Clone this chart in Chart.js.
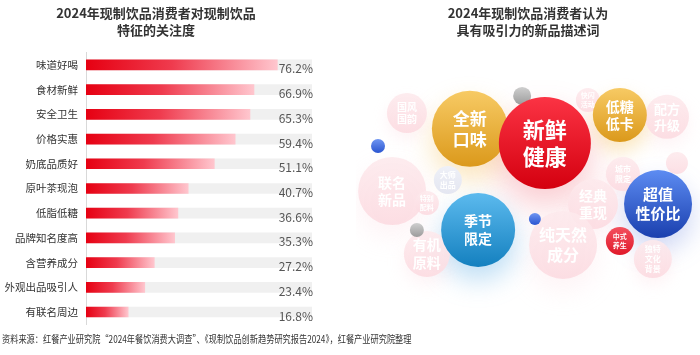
<!DOCTYPE html>
<html><head><meta charset="utf-8">
<script src="https://cdn.jsdelivr.net/npm/chart.js@4/dist/chart.umd.min.js"></script>
<style>
html,body{margin:0;padding:0;background:#fff;width:700px;height:355px;overflow:hidden;font-family:"Noto Sans CJK SC","Noto Sans",sans-serif;}
#left{position:absolute;left:0;top:0;width:324px;height:355px;}
#right{position:absolute;left:356px;top:0;width:344px;height:355px;}
#src{position:absolute;left:2px;top:331px;font-size:10px;color:#333;white-space:nowrap;transform:scaleX(0.82);transform-origin:left top;}
</style></head>
<body>
<div id="left"><canvas id="c1" width="324" height="355"></canvas></div>
<div id="right"><canvas id="c2" width="344" height="355"></canvas></div>
<div id="src">资料来源：红餐产业研究院“2024年餐饮消费大调查”、《现制饮品创新趋势研究报告2024》，红餐产业研究院整理</div>
<script>
// ---- bar chart data ----
const categories = ['味道好喝','食材新鲜','安全卫生','价格实惠','奶底品质好','原叶茶现泡','低脂低糖','品牌知名度高','含营养成分','外观出品吸引人','有联名周边'];
const values = [76.2,66.9,65.3,59.4,51.1,40.7,36.6,35.3,27.2,23.4,16.8];
const trackValues = [90,90,90,90,90,90,90,90,90,90,90];
const leftTitle = ['2024年现制饮品消费者对现制饮品','特征的关注度'];

// ---- bubble chart data ----
const rightTitle = ['2024年现制饮品消费者认为','具有吸引力的新品描述词'];
const bubbleLabels = ['国风\n国韵','快闪\n活动','配方\n升级','城市\n限定','','联名\n新品','大师\n出品','特别\n配料','有机\n原料','经典\n重现','纯天然\n成分','独特\n文化\n背景',
  '','','','',
  '全新\n口味','低糖\n低卡','季节\n限定','超值\n性价比','中式\n养生','新鲜\n健康'];
const bubbleX = [14.8,67.4,90.4,77.6,93.3,10.5,26.7,20.6,20.6,68.9,60.2,86.3,
  48.3,6.4,17.7,52.0,
  33.1,76.7,35.5,87.8,76.7,54.9];
const bubbleY = [22.2,17.4,23.6,44.6,40.5,50.8,46.8,55.2,73.9,55.6,70.6,75.8,
  15.9,34.3,65.1,61.1,
  28.0,22.9,65.1,55.6,69.2,33.2];
const bubbleR = [20,12,22,17,11,34,14,12,23,25,34,19,
  9,7,7,6,
  38,27,37,34,14,46];
const bubbleKinds = ['pale','pale','pale','pale','pale','pale','lavender','pale','pale','pale','pale','pale',
  'grey','bluedot','grey','bluedot',
  'gold','gold','sky','navy','redsmall','red'];

// ---- styles ----
const FONT = '"Noto Sans CJK SC","Noto Sans",sans-serif';
const kindStyle = {
  pale:{top:'rgba(253,234,237,0.9)',bot:'rgba(252,219,225,0.9)',glow:'rgba(250,205,215,0.22)'},
  lavender:{top:'#eef0f7',bot:'#e4e6f1',glow:'rgba(220,220,240,0.2)'},
  grey:{top:'#cfcfcf',bot:'#9c9c9c',glow:'rgba(0,0,0,0)'},
  bluedot:{top:'#6f95f2',bot:'#2a55d0',glow:'rgba(0,0,0,0)'},
  gold:{top:'#f7ca64',bot:'#db991b',glow:'rgba(243,190,80,0.35)'},
  red:{top:'#fb3344',bot:'#d4000f',glow:'rgba(235,50,70,0.25)'},
  sky:{top:'#5cbaee',bot:'#1480bf',glow:'rgba(90,170,230,0.38)'},
  navy:{top:'#5d8cf2',bot:'#1a3fae',glow:'rgba(90,120,220,0.28)'},
  redsmall:{top:'#f3505e',bot:'#e0192a',glow:'rgba(240,80,90,0.2)'}
};
const labelFont = {'新鲜\n健康':22,'全新\n口味':17,'季节\n限定':14,'超值\n性价比':15,'低糖\n低卡':14,'联名\n新品':14,'纯天然\n成分':16,'经典\n重现':14,'有机\n原料':14,'配方\n升级':13,'国风\n国韵':10,'城市\n限定':8,'快闪\n活动':7,'大师\n出品':8,'特别\n配料':7,'中式\n养生':7,'独特\n文化\n背景':8};

// ---- left: bar chart ----
const barGradient = (ctx) => {
  const chart = ctx.chart; const area = chart.chartArea;
  if (!area || ctx.raw == null) return '#e60012';
  const x0 = chart.scales.x.getPixelForValue(0);
  const x1 = chart.scales.x.getPixelForValue(ctx.raw);
  const g = chart.ctx.createLinearGradient(x0,0,x1,0);
  g.addColorStop(0,'#e60012'); g.addColorStop(0.45,'#ef3b4e'); g.addColorStop(1,'#ffc6ce');
  return g;
};
const valueLabels = {
  id:'valueLabels',
  afterDatasetsDraw(chart){
    const ctx = chart.ctx; const meta = chart.getDatasetMeta(1);
    const xr = chart.scales.x.getPixelForValue(90);
    ctx.save(); ctx.font = '12px ' + FONT; ctx.fillStyle = '#555'; ctx.textAlign='right'; ctx.textBaseline='middle';
    meta.data.forEach((el,i)=>{ ctx.fillText(values[i].toFixed(1)+'%', xr+1, el.y+4); });
    ctx.restore();
  }
};
new Chart(document.getElementById('c1'),{
  type:'bar',
  data:{labels:categories,datasets:[
    {data:trackValues,backgroundColor:'#f0f0f0',barThickness:10,grouped:false,order:2},
    {data:values,backgroundColor:barGradient,barThickness:10,grouped:false,order:1}
  ]},
  options:{
    indexAxis:'y',responsive:false,animation:false,events:[],
    layout:{padding:{left:0,right:12,top:0,bottom:30.6}},
    plugins:{legend:{display:false},tooltip:{enabled:false},
      title:{display:true,text:leftTitle,color:'#333',font:{family:FONT,size:13,weight:'bold',lineHeight:1.33},padding:{top:4,bottom:14}}},
    scales:{
      x:{display:false,min:0,max:90},
      y:{grid:{display:false,drawTicks:false},border:{display:true,color:'#d9d9d9'},
        ticks:{color:'#333',font:{family:FONT,size:10.5},padding:8},
        afterFit(s){ s.width = 86; }}
    }
  },
  plugins:[valueLabels]
});

// ---- right: bubble chart ----
const bubbleFill = (ctx) => {
  const chart = ctx.chart; const i = ctx.dataIndex; const st = kindStyle[bubbleKinds[i]];
  if (!chart.chartArea || !chart.scales.y) return st.top;
  const y = chart.scales.y.getPixelForValue(bubbleY[i]); const r = bubbleR[i];
  const g = chart.ctx.createLinearGradient(0,y-r,0,y+r);
  g.addColorStop(0,st.top); g.addColorStop(1,st.bot);
  return g;
};
const glowPlugin = {
  id:'glow',
  beforeDatasetsDraw(chart){
    const ctx = chart.ctx; const meta = chart.getDatasetMeta(0);
    ctx.save();
    meta.data.forEach((el,i)=>{
      const st = kindStyle[bubbleKinds[i]]; const r = bubbleR[i];
      if (r < 15) return;
      ctx.filter = 'blur(' + Math.round(r*0.35) + 'px)';
      ctx.fillStyle = st.glow;
      ctx.beginPath(); ctx.arc(el.x, el.y + r*0.35, r*1.02, 0, Math.PI*2); ctx.fill();
    });
    ctx.restore();
  }
};
const bubbleText = {
  id:'bubbleText',
  afterDatasetsDraw(chart){
    const ctx = chart.ctx; const meta = chart.getDatasetMeta(0);
    ctx.save(); ctx.fillStyle='#fff'; ctx.textAlign='center'; ctx.textBaseline='middle';
    meta.data.forEach((el,i)=>{
      const lab = bubbleLabels[i]; if (!lab) return;
      const lines = lab.split('\n'); const fs = labelFont[lab] || 10; const lh = fs*1.25;
      ctx.font = 'bold ' + fs + 'px ' + FONT;
      const y0 = el.y - (lines.length-1)*lh/2;
      lines.forEach((ln,k)=>ctx.fillText(ln, el.x, y0 + k*lh));
    });
    ctx.restore();
  }
};
new Chart(document.getElementById('c2'),{
  type:'bubble',
  data:{datasets:[{
    data:bubbleX.map((x,i)=>({x:x,y:bubbleY[i],r:bubbleR[i]})),
    backgroundColor:bubbleFill,borderWidth:0,clip:false
  }]},
  options:{
    responsive:false,animation:false,events:[],
    layout:{autoPadding:false,padding:{left:0,right:0,top:0,bottom:30}},
    plugins:{legend:{display:false},tooltip:{enabled:false},
      title:{display:true,text:rightTitle,color:'#333',font:{family:FONT,size:13,weight:'bold',lineHeight:1.33},padding:{top:4,bottom:14}}},
    scales:{
      x:{display:false,min:0,max:100},
      y:{display:false,min:0,max:100,reverse:true}
    }
  },
  plugins:[glowPlugin,bubbleText]
});
</script>
</body></html>
